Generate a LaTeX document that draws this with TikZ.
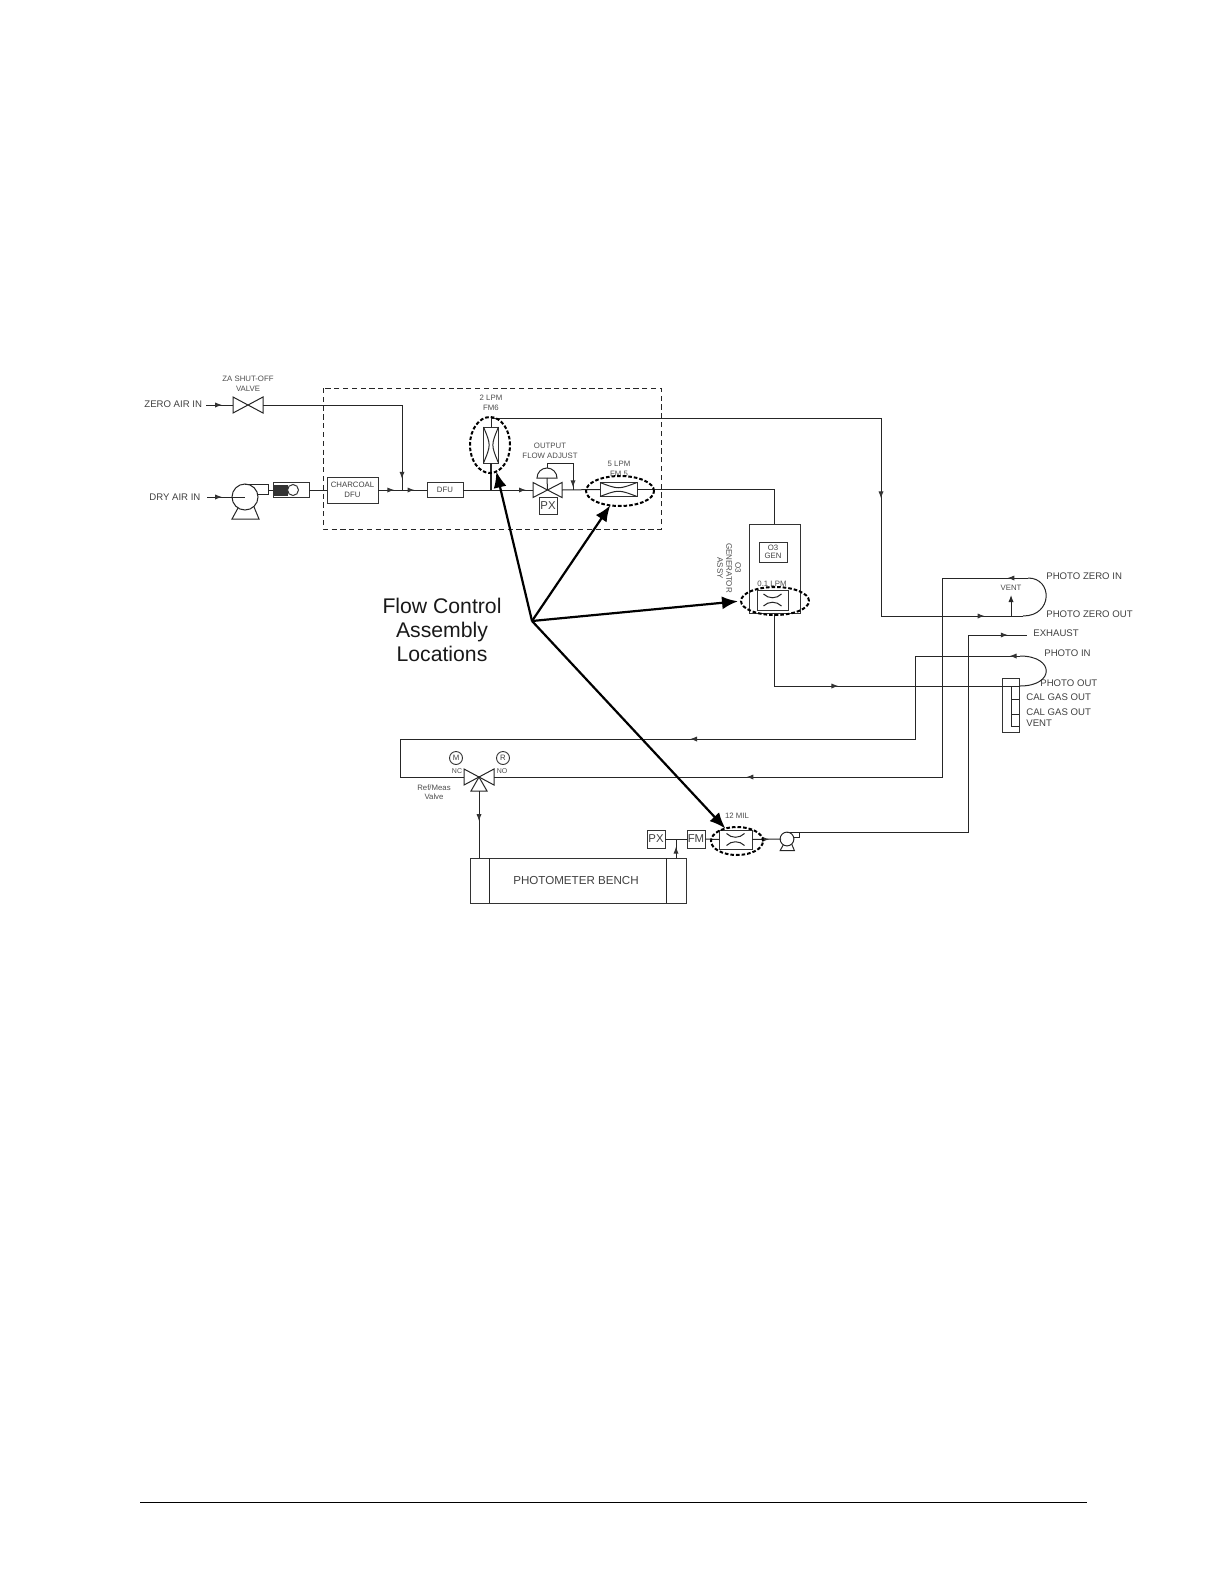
\documentclass[tikz,border=0pt]{standalone}
\usepackage{fontspec}
\setmainfont{Liberation Sans}
\usetikzlibrary{shapes.geometric, arrows.meta, positioning, decorations.markings}
\tikzset{
    box_part/.style 2 args={rectangle, draw=black!80, line width=0.5pt, inner sep=0pt, outer sep=0pt, minimum width=#1, minimum height=#2, align=center, text=black!75},
    valve_body/.style 2 args={rectangle, inner sep=0pt, outer sep=0pt, minimum width=#1, minimum height=#2},
    lbl_small/.style={inner sep=0pt, align=center, text=black!70, font=\fontsize{3.9}{5}\selectfont},
    lbl_port/.style={inner sep=0pt, anchor=west, text=black!75, font=\fontsize{4.8}{6}\selectfont},
    flow_line/.style={draw=black!85, line width=0.5pt},
    flow_at/.style={postaction={decorate}, decoration={markings, mark=at position #1 with {\arrow[black!80, fill=black!60]{Latex[length=3.5pt,width=2.6pt]}}}},
    loc_ellipse/.style={ellipse, draw=black, line width=1pt, dash pattern=on 1.8pt off 1pt, inner sep=0pt, outer sep=0pt},
    callout_arrow/.style={draw=black, line width=1.1pt, -{Latex[length=8pt,width=6.5pt]}},
    pics/pump/.style={code={
        \draw[flow_line, fill=white] (0,-13) -- (23,-13) -- (23,-3) -- (12.6,-3);
        \draw[flow_line] (0,0) circle (13);
        \draw[flow_line] (-7,11) -- (-13,22) -- (14,22) -- (9,10);
    }}
}
\begin{document}
\begin{tikzpicture}[x=0.5pt, y=-0.5pt]
    \useasboundingbox (0,0) rectangle (1224,1584);

    % inlet side
    \node[lbl_port] (zero_lbl) at (144,404) {ZERO AIR IN};
    \node[lbl_port] (dry_lbl) at (149,497) {DRY AIR IN};
    \coordinate (zero_start) at (206,405);
    \coordinate (dry_start) at (207,497);
    \node[valve_body={15pt}{8pt}] (za_valve) at (248,405) {};
    \node[lbl_small, above=2.5pt of za_valve] (za_lbl) {ZA SHUT-OFF\\VALVE};
    \coordinate (pump_big) at (245,497);
    \coordinate (pump_big_out) at (268,490);
    \pic at (pump_big) {pump};
    \node[box_part={18pt}{7.5pt}] (dryer) at (291,490) {};
    \fill[black!80] (274,485) rectangle (288,496);
    \node[circle, draw=black!80, fill=white, line width=0.5pt, minimum size=5.5pt, inner sep=0pt] (dryer_eye) at (293,490) {};
    \node[box_part={25.5pt}{13pt}, font=\fontsize{3.9}{5}\selectfont] (charcoal) at (352.5,490) {CHARCOAL\\DFU};
    \coordinate (zero_tee) at (402,490);
    \node[box_part={18pt}{7.5pt}, font=\fontsize{3.9}{5}\selectfont] (dfu) at (445,490) {DFU};

    % flow control block
    \draw[black!85, line width=0.4pt, dash pattern=on 2.6pt off 1.8pt] (323,388) rectangle (661,529);
    \coordinate (fm6_tee) at (491,490);
    \coordinate (fm6_top) at (491,418);
    \node[valve_body={7.5pt}{18pt}, draw=black!80, line width=0.5pt] (fm6) at (491,445) {};
    \node[lbl_small] (fm6_lbl) at (491,403) {2 LPM\\FM6};
    \node[valve_body={14.5pt}{7.5pt}] (out_valve) at (547.5,490) {};
    \node[lbl_small] (out_lbl) at (550,451) {OUTPUT\\FLOW ADJUST};
    \node[box_part={9pt}{8.5pt}, font=\fontsize{5.7}{6}\selectfont] (out_px) at (548,505.5) {PX};
    \coordinate (act_left) at (537,478);
    \coordinate (act_base) at (547,478);
    \coordinate (act_crown) at (547,468);
    \coordinate (act_top) at (547,463);
    \coordinate (adj_tee) at (573,490);
    \node[valve_body={18.5pt}{7pt}, draw=black!80, line width=0.5pt] (fm5) at (618.5,489.5) {};
    \node[lbl_small] (fm5_lbl) at (619,469) {5 LPM\\FM 5};

    % generator
    \node[box_part={25.5pt}{44.5pt}] (o3_box) at (774.5,568.5) {};
    \node[box_part={14pt}{10pt}, font=\fontsize{3.9}{4.2}\selectfont] (o3_gen) at (773,552) {O3\\GEN};
    \node[valve_body={15.5pt}{10pt}, draw=black!80, line width=0.5pt] (o3_orif) at (772.5,600) {};
    \node[lbl_small] (o3_rate) at (772,584) {0.1 LPM};
    \node[lbl_small, rotate=-90, font=\fontsize{4}{4.5}\selectfont] (o3_lbl) at (729,568) {O3\\GENERATOR\\ASSY};

    % ports
    \node[lbl_port] (pzi_lbl) at (1046,576) {PHOTO ZERO IN};
    \node[lbl_port] (pzo_lbl) at (1046,614) {PHOTO ZERO OUT};
    \node[lbl_port] (exh_lbl) at (1033,633) {EXHAUST};
    \node[lbl_port] (pi_lbl) at (1044,653) {PHOTO IN};
    \node[lbl_port] (po_lbl) at (1040,683) {PHOTO OUT};
    \node[lbl_port] (cal1_lbl) at (1026,697) {CAL GAS OUT};
    \node[lbl_port] (cal2_lbl) at (1026,712) {CAL GAS OUT};
    \node[lbl_port] (vent2_lbl) at (1026,723) {VENT};
    \node[lbl_small] (vent_lbl) at (1011,588) {VENT};
    \node[valve_body={8.5pt}{27pt}, draw=black!80, line width=0.5pt] (manifold) at (1010.5,705) {};
    \coordinate (zi_corner) at (942,578);
    \coordinate (zi_end) at (1028,578);
    \coordinate (zo_corner) at (881,616);
    \coordinate (zo_end) at (1023,616);
    \coordinate (vent_base) at (1011,616);
    \coordinate (vent_tip) at (1011,595);
    \coordinate (exh_corner) at (968,635);
    \coordinate (exh_end) at (1027,635);
    \coordinate (pi_corner) at (915,656);
    \coordinate (pi_end) at (1020,656);
    \coordinate (po_end) at (1020,686);
    \coordinate (loop_corner) at (400,739);
    \coordinate (loop_low) at (400,777);

    % photometer side
    \node[valve_body={15pt}{8pt}] (ref_valve) at (479,777) {};
    \coordinate (ref_foot) at (479,791);
    \node[circle, draw=black!80, line width=0.45pt, minimum size=6.5pt, inner sep=0pt, font=\fontsize{3.9}{4}\selectfont, text=black!75] (m_circ) at (456,758) {M};
    \node[circle, draw=black!80, line width=0.45pt, minimum size=6.5pt, inner sep=0pt, font=\fontsize{3.9}{4}\selectfont, text=black!75] (r_circ) at (503,758) {R};
    \node[lbl_small, font=\fontsize{3.5}{4}\selectfont] (nc_lbl) at (457,771) {NC};
    \node[lbl_small, font=\fontsize{3.5}{4}\selectfont] (no_lbl) at (502,771) {NO};
    \node[lbl_small, font=\fontsize{3.9}{4.6}\selectfont] (ref_lbl) at (434,792) {Ref/Meas\\Valve};
    \node[box_part={108pt}{22.5pt}, font=\fontsize{5.8}{7}\selectfont] (bench) at (578,880.5) {PHOTOMETER BENCH\hspace{2pt}};
    \node[box_part={9pt}{9pt}, font=\fontsize{5.7}{6}\selectfont] (low_px) at (656,839) {PX};
    \node[box_part={9pt}{9pt}, font=\fontsize{5.7}{6}\selectfont] (low_fm) at (696,839) {FM};
    \coordinate (px_tee) at (676,839);
    \coordinate (bench_tee) at (676,858);
    \node[valve_body={16.5pt}{9.5pt}, draw=black!80, line width=0.5pt] (low_orif) at (735.5,839.5) {};
    \node[lbl_small] (mil_lbl) at (737,816) {12 MIL};
    \coordinate (pump_small) at (787,839);
    \coordinate (pump_small_out) at (799,832);
    \pic[scale=0.53] at (pump_small) {pump};

    % valve and meter insides
    \foreach \v in {za_valve, out_valve} {
        \draw[flow_line] (\v.north west) -- (\v.south east) -- (\v.north east) -- (\v.south west) -- cycle;
    }
    \draw[flow_line] (fm6.north west) .. controls (fm6.center) and (fm6.center) .. (fm6.south west);
    \draw[flow_line] (fm6.north east) .. controls (fm6.center) and (fm6.center) .. (fm6.south east);
    \draw[flow_line] (fm5.north west) .. controls (fm5.center) and (fm5.center) .. (fm5.north east);
    \draw[flow_line] (fm5.south west) .. controls (fm5.center) and (fm5.center) .. (fm5.south east);
    \foreach \o in {o3_orif, low_orif} {
        \draw[flow_line] ([shift={(-9,-6)}]\o.center) .. controls ([shift={(-4,-1)}]\o.center) and ([shift={(4,-1)}]\o.center) .. ([shift={(9,-6)}]\o.center);
        \draw[flow_line] ([shift={(-9,6)}]\o.center) .. controls ([shift={(-4,1)}]\o.center) and ([shift={(4,1)}]\o.center) .. ([shift={(9,6)}]\o.center);
    }
    \draw[flow_line] (ref_valve.center) -- (ref_valve.north west) -- (ref_valve.south west) -- cycle;
    \draw[flow_line] (ref_valve.center) -- (ref_valve.north east) -- (ref_valve.south east) -- cycle;
    \draw[flow_line] (ref_valve.center) -- ([xshift=-4pt]ref_foot) -- ([xshift=4pt]ref_foot) -- cycle;
    \draw[flow_line, fill=white] (act_left) arc[start angle=180, end angle=360, radius=10] -- cycle;
    \draw[flow_line] (act_base) -- (out_valve.center);
    \draw[flow_line] (act_crown) -- (act_top);
    \draw[flow_line] ([xshift=-10pt]bench.north east) -- ([xshift=-10pt]bench.south east);
    \draw[flow_line] ([xshift=9.5pt]bench.north west) -- ([xshift=9.5pt]bench.south west);
    \draw[flow_line] (1011,686) -- (1011,726);
    \foreach \yy in {686, 699, 714, 726} {
        \draw[flow_line] (1011,\yy) -- (1019,\yy);
    }

    % piping
    \draw[flow_line, flow_at=0.6] (zero_start) -- (za_valve.west);
    \draw[flow_line, flow_at=0.95] (za_valve.east) -| (zero_tee);
    \draw[flow_line, flow_at=0.4] (dry_start) -- (pump_big);
    \draw[flow_line] (pump_big_out) -- (dryer.west);
    \draw[flow_line] (dryer.east) -- (charcoal.west);
    \draw[flow_line, flow_at=0.68] (charcoal.east) -- (zero_tee);
    \draw[flow_line, flow_at=0.5] (zero_tee) -- (dfu.west);
    \draw[flow_line, flow_at=0.9] (dfu.east) -- (out_valve.west);
    \draw[flow_line, line width=0.8pt] (fm6_tee) -- (fm6.south);
    \draw[flow_line] (fm6.north) -- (fm6_top);
    \draw[flow_line, flow_at=0.8] (fm6_top) -| (zo_corner);
    \draw[flow_line, flow_at=0.73] (zo_corner) -- (zo_end);
    \draw[flow_line] (zo_end) .. controls (1053,616) and (1053,578) .. (zi_end);
    \draw[flow_line, flow_at=0.24] (zi_end) -- (zi_corner);
    \draw[flow_line, flow_at=0.61] (zi_corner) |- (ref_valve.east);
    \draw[flow_line, -{Latex[length=3.5pt,width=2.6pt]}] (vent_base) -- (vent_tip);
    \draw[flow_line, flow_at=0.95] (act_top) -| (adj_tee);
    \draw[flow_line] (out_valve.east) -- (fm5.west);
    \draw[flow_line] (fm5.east) -| (o3_box.north);
    \draw[flow_line, flow_at=0.43] (o3_box.south) |- (po_end);
    \draw[flow_line] (po_end) .. controls (1055,686) and (1055,656) .. (pi_end);
    \draw[flow_line, flow_at=0.1] (pi_end) -- (pi_corner);
    \draw[flow_line, flow_at=0.44] (pi_corner) |- (loop_corner) -- (loop_low) -- (ref_valve.west);
    \draw[flow_line, flow_at=0.45] (ref_foot) -- (ref_foot |- bench.north);
    \draw[flow_line] (low_px.east) -- (low_fm.west);
    \draw[flow_line, flow_at=0.6] (bench_tee) -- (px_tee);
    \draw[flow_line] (low_fm.east) -- (low_orif.west);
    \draw[flow_line, flow_at=0.6] (low_orif.east) -- ([xshift=-3pt]pump_small);
    \draw[flow_line, flow_at=0.955] (pump_small_out) -| (exh_corner) -- (exh_end);

    % location callouts
    \node[loc_ellipse, minimum width=20pt, minimum height=28pt] (ell_fm6) at (490,445) {};
    \node[loc_ellipse, minimum width=34pt, minimum height=15pt] (ell_fm5) at (620,491) {};
    \node[loc_ellipse, minimum width=34pt, minimum height=14pt] (ell_o3) at (775,601) {};
    \node[loc_ellipse, minimum width=26pt, minimum height=14pt] (ell_mil) at (737,841) {};
    \node[inner sep=0pt, align=center, text=black!90, font=\fontsize{10.6}{12}\selectfont] (flow_lbl) at (442,630) {Flow Control\\Assembly\\Locations};
    \coordinate (flow_hub) at (532,621);
    \draw[callout_arrow] (flow_hub) -- (ell_fm6);
    \draw[callout_arrow] (flow_hub) -- (ell_fm5);
    \draw[callout_arrow, shorten >=1.5pt] (flow_hub) -- (ell_o3.west);
    \draw[callout_arrow] (flow_hub) -- (ell_mil);

    % page rule
    \coordinate (rule_left) at (140,1502);
    \coordinate (rule_right) at (1087,1502);
    \draw[black, line width=0.5pt] (rule_left) -- (rule_right);
\end{tikzpicture}
\end{document}
